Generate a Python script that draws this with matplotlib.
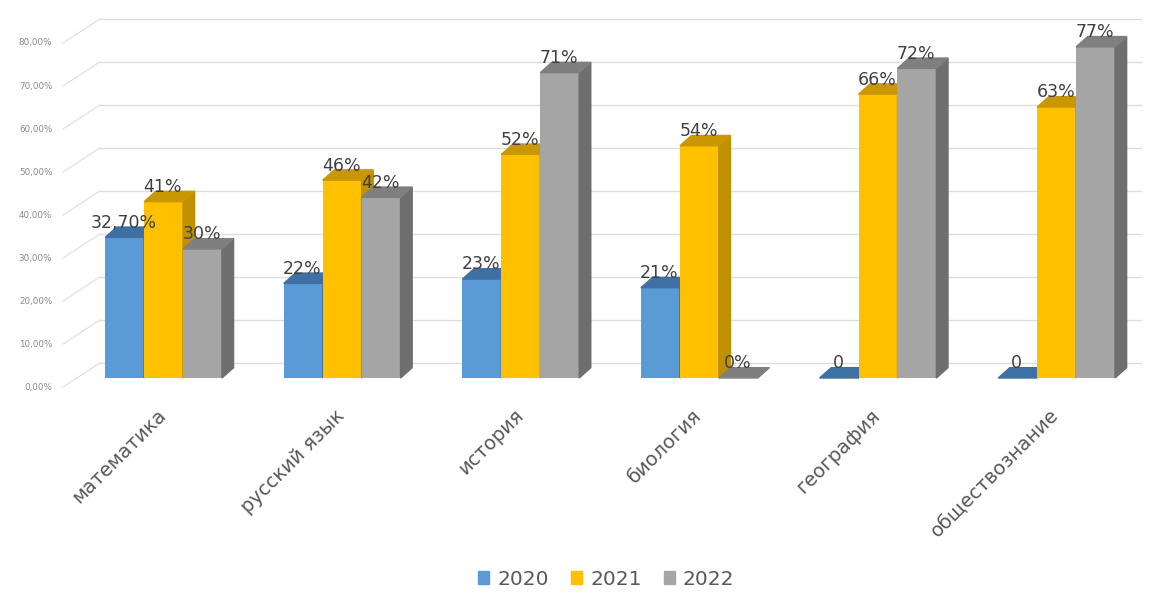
import matplotlib
matplotlib.use("Agg")
import matplotlib.pyplot as plt
from matplotlib.patches import Polygon, Patch
import numpy as np

# данные
categories = ["математика", "русский язык", "история", "биология", "география", "обществознание"]
years = ["2020", "2021", "2022"]
v2020 = [32.7, 22, 23, 21, 0, 0]
v2021 = [41, 46, 52, 54, 66, 63]
v2022 = [30, 42, 71, 0, 72, 77]
lab2020 = ["32,70%", "22%", "23%", "21%", "0", "0"]
lab2021 = ["41%", "46%", "52%", "54%", "66%", "63%"]
lab2022 = ["30%", "42%", "71%", "0%", "72%", "77%"]
yticks = [0, 10, 20, 30, 40, 50, 60, 70, 80]

series = [v2020, v2021, v2022]
labels = [lab2020, lab2021, lab2022]
front_col = ["#5B9BD5", "#FFC000", "#A5A5A5"]
top_col = ["#3E70A3", "#C99700", "#7F7F7F"]
side_col = ["#41719C", "#BF9000", "#6E6E6E"]

plt.rcParams['font.family'] = ['DejaVu Sans']
fig = plt.figure(figsize=(11.66, 5.96), dpi=100)
ax = fig.add_axes([0.0024, 0.3297, 0.9957, 0.6566])
ax.set_xlim(-0.9, 5.6)
ax.set_ylim(-5, 86)
ax.axis("off")

w = 0.218      # ширина столбика
dx = 0.065     # глубина по x
dz = 2.4       # глубина по y
back = 3.5     # смещение задней стенки
x_front, x_back, x_end = -0.563, -0.356, 5.47

# сетка "3D"
for t in yticks:
    ax.plot([x_front, x_back], [t - 2.1, t + back], color="#e3e3e3", lw=1, zorder=0)
    ax.plot([x_back, x_end], [t + back, t + back], color="#dedede", lw=1, zorder=0)
    ax.text(x_front - 0.06, t - 2.1, f"{t},00%", ha="right", va="center",
            fontsize=6.3, color="#8a8a8a")

x = np.arange(len(categories))
for j in range(3):
    for i in range(len(categories)):
        h = series[j][i]
        x0 = x[i] + (j - 1.5) * w
        zo = 2 + j * 3
        if h > 0:
            ax.bar(x0, h, width=w, align="edge", color=front_col[j], zorder=zo)
            ax.add_patch(Polygon([(x0 + w, 0), (x0 + w + dx, dz), (x0 + w + dx, h + dz), (x0 + w, h)],
                                 closed=True, color=side_col[j], zorder=zo))
        ax.add_patch(Polygon([(x0, h), (x0 + w, h), (x0 + w + dx, h + dz), (x0 + dx, h + dz)],
                             closed=True, color=top_col[j], zorder=zo + 1))
        ax.text(x0 + w / 2 - 0.005, h + 1.3, labels[j][i], ha="center", va="bottom",
                fontsize=12.5, color="#404040", zorder=20)

for i, c in enumerate(categories):
    ax.text(x[i] - 0.04, -6.5, c, rotation=45, ha="right", va="top", rotation_mode="anchor",
            fontsize=14, color="#595959", clip_on=False)

handles = [Patch(color=front_col[j]) for j in range(3)]
fig.legend(handles, years, loc="lower center", bbox_to_anchor=(0.52, -0.018), ncol=3,
           frameon=False, fontsize=14.5, handlelength=0.55, handleheight=0.55,
           handletextpad=0.4, columnspacing=1.1, labelcolor="#595959")

fig.savefig("out.png", dpi=100)
